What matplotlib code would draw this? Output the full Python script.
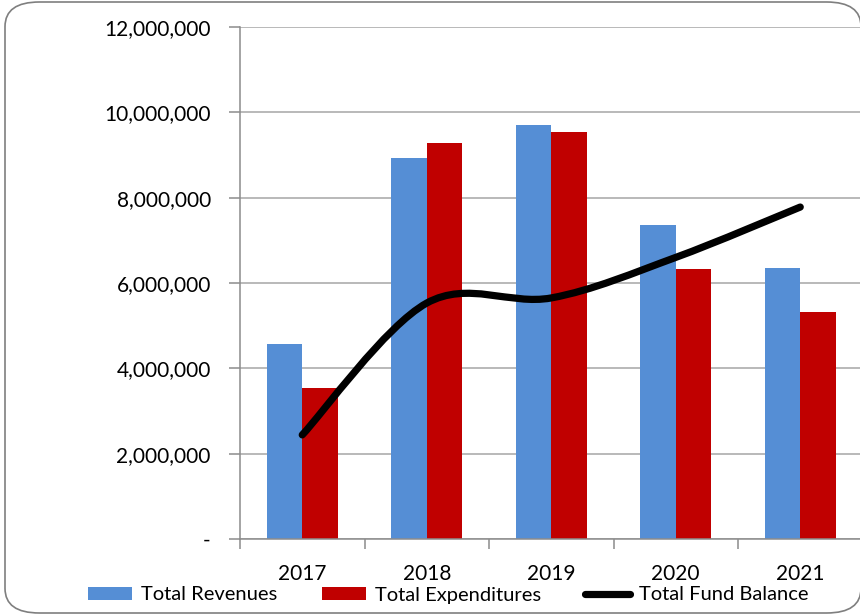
import matplotlib.pyplot as plt
import numpy as np
from matplotlib.path import Path
from matplotlib.patches import PathPatch, FancyBboxPatch
from matplotlib.lines import Line2D
from matplotlib.patches import Patch
from matplotlib.ticker import FuncFormatter, MultipleLocator

plt.rcParams['font.family'] = ['Lato', 'DejaVu Sans']

years = ['2017', '2018', '2019', '2020', '2021']
revenues = [4570000, 8920000, 9700000, 7350000, 6350000]
expenditures = [3550000, 9270000, 9550000, 6330000, 5320000]
fund_balance = [2440000, 5530000, 5650000, 6600000, 7780000]

blue = '#558ED5'
red = '#C00000'
grid_col = '#A6A6A6'


def smooth_path(xs, ys):
    # cubic bezier through every point, tangents from neighbours (/6)
    pts = np.column_stack([xs, ys]).astype(float)
    n = len(pts)
    verts = [pts[0]]
    codes = [Path.MOVETO]
    for i in range(n - 1):
        p0 = pts[i - 1] if i > 0 else pts[i]
        p1 = pts[i]
        p2 = pts[i + 1]
        p3 = pts[i + 2] if i + 2 < n else pts[i + 1]
        c1 = p1 + (p2 - p0) / 6.0
        c2 = p2 - (p3 - p1) / 6.0
        verts += [c1, c2, p2]
        codes += [Path.CURVE4] * 3
    return Path(verts, codes)


fig = plt.figure(figsize=(8.6, 6.15), dpi=100)

# chart frame
frame = FancyBboxPatch((5 / 860, 2 / 615), 856 / 860, 611 / 615,
                       boxstyle='round,pad=0,rounding_size=0.04',
                       transform=fig.transFigure, facecolor='white',
                       edgecolor='#7F7F7F', linewidth=1.2, zorder=-5)
fig.patches.append(frame)

ax = fig.add_axes([240 / 860, 76 / 615, 622.5 / 860, 512 / 615])
ax.set_facecolor('none')

x = np.arange(len(years))
w = 0.286
ax.bar(x - w / 2, revenues, width=w, color=blue, zorder=2)
ax.bar(x + w / 2, expenditures, width=w, color=red, zorder=2)

line = PathPatch(smooth_path(x, fund_balance), facecolor='none',
                 edgecolor='black', linewidth=5.2, capstyle='round',
                 joinstyle='round', zorder=3)
ax.add_patch(line)

ax.set_xlim(-0.5, len(years) - 0.5)
ax.set_ylim(0, 12000000)
ax.yaxis.set_major_locator(MultipleLocator(2000000))
ax.yaxis.set_major_formatter(FuncFormatter(lambda v, p: '-' if v == 0 else f'{int(v):,}'))
ax.grid(axis='y', color=grid_col, linewidth=1.1, zorder=1)
ax.set_axisbelow(True)

ax.set_xticks(x)
ax.set_xticklabels(years)
ax.set_xticks(np.arange(-0.5, len(years), 1.0), minor=True)
ax.tick_params(axis='x', which='major', length=0, pad=18, labelsize=15)
ax.tick_params(axis='x', which='minor', length=7, width=1.1, color='#8C8C8C')
ax.tick_params(axis='y', length=8, width=1.1, color='#8C8C8C', pad=13, labelsize=15)

for side in ['top', 'right']:
    ax.spines[side].set_visible(False)
for side in ['left', 'bottom']:
    ax.spines[side].set_color('#8C8C8C')
    ax.spines[side].set_linewidth(1.1)

handles = [Patch(facecolor=blue), Patch(facecolor=red),
           Line2D([], [], color='black', linewidth=5.2, solid_capstyle='round')]
labels = ['Total Revenues', 'Total Expenditures', 'Total Fund Balance']
fig.legend(handles, labels, loc='center', bbox_to_anchor=(448 / 860, 1 - 595 / 615),
           ncol=3, frameon=False, fontsize=14.5, handlelength=2.2, handleheight=0.6,
           columnspacing=2.2, handletextpad=0.45)

fig.savefig('out.png', dpi=100)
